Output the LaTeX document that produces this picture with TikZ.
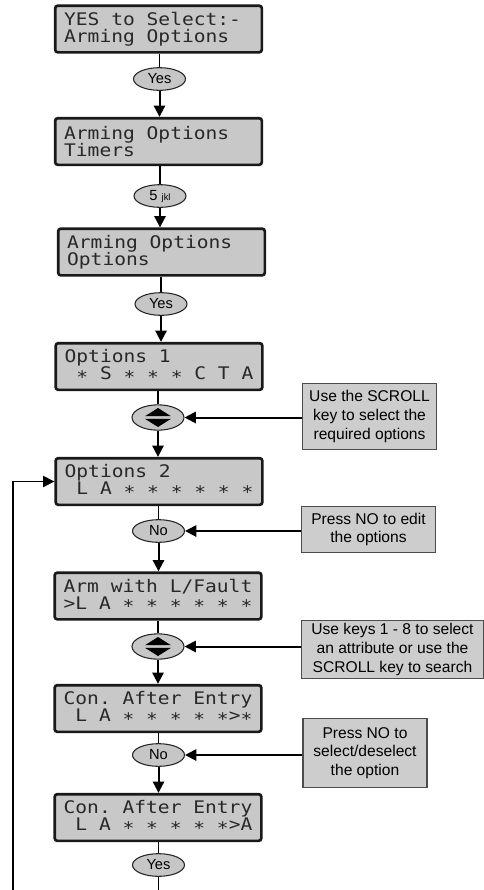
\documentclass[tikz,border=0pt]{standalone}
\usepackage{fontspec}
\setmainfont{Liberation Sans}
\newfontfamily\lcdfont[FakeStretch=1.13]{DejaVu Sans Mono}
\usepackage{xcolor}
\definecolor{lcdgray}{RGB}{200,200,200}
\definecolor{keygray}{RGB}{198,198,198}
\definecolor{notegray}{RGB}{205,205,205}
\definecolor{lcdink}{RGB}{40,40,40}
\usetikzlibrary{arrows.meta,shapes.geometric}
\newcommand\lsp{\phantom{L}}
\newcommand\lcdst{\raisebox{-.35ex}{*}}
\newcommand\scrollmark[1]{\fill[shift={(#1)}] (-13,-1.3) -- (13,-1.3) -- (0,-9.5) -- cycle (-13,1.3) -- (13,1.3) -- (0,9.5) -- cycle;}
\tikzset{
  lcd/.style={draw=black!90,line width=2pt,rounded corners=2pt,fill=lcdgray,text=lcdink,
    minimum width=155pt,minimum height=35pt,inner xsep=6.5pt,text width=141.5pt,align=left,
    font=\lcdfont\fontsize{13}{12.75}\selectfont},
  key/.style={ellipse,draw=black!85,line width=0.8pt,fill=keygray,inner sep=0pt,
    minimum width=39pt,minimum height=17pt,font=\fontsize{11}{13}\selectfont},
  note/.style={draw=black!70,line width=0.8pt,fill=notegray,align=center,inner sep=2pt,
    font=\fontsize{11.7}{14}\selectfont},
  conn/.style={line width=1.5pt,-{Triangle[width=8.5pt,length=8.5pt]}},
  wire/.style={line width=1pt}
}
\begin{document}
\begin{tikzpicture}[x=0.75pt,y=-0.75pt]
  \useasboundingbox (0,0) rectangle (484,890);
  \node[lcd] (lcd1) at (158.5,29) {YES\lsp to\lsp Select:-\\Arming\lsp Options};
  \node[key] (k1) at (159.5,79) {Yes};
  \node[lcd] (lcd2) at (158.5,141.5) {Arming\lsp Options\\Timers};
  \node[key] (k2) at (160,196) {5 {\fontsize{7}{8}\selectfont jkl}};
  \node[lcd] (lcd3) at (161.5,252) {Arming\lsp Options\\Options};
  \node[key] (k3) at (161,304) {Yes};
  \node[lcd] (lcd4) at (159,366.5) {Options\lsp 1\\\lsp\lcdst\lsp S\lsp\lcdst\lsp\lcdst\lsp\lcdst\lsp C\lsp T\lsp A};
  \node[key,minimum height=19pt] (k4) at (158,417.5) {};
  \node[lcd] (lcd5) at (159,481.5) {Options\lsp 2\\\lsp L\lsp A\lsp\lcdst\lsp\lcdst\lsp\lcdst\lsp\lcdst\lsp\lcdst\lsp\lcdst};
  \node[key] (k5) at (158.5,531) {No};
  \node[lcd] (lcd6) at (158,596) {Arm\lsp with\lsp L/Fault\\>L\lsp A\lsp\lcdst\lsp\lcdst\lsp\lcdst\lsp\lcdst\lsp\lcdst\lsp\lcdst};
  \node[key,minimum height=19pt] (k6) at (158,646.5) {};
  \node[lcd] (lcd7) at (158,708.5) {Con.\lsp After\lsp Entry\\\lsp L\lsp A\lsp\lcdst\lsp\lcdst\lsp\lcdst\lsp\lcdst\lsp\lcdst>\lcdst};
  \node[key] (k7) at (158.5,755) {No};
  \node[lcd] (lcd8) at (158,817.5) {Con.\lsp After\lsp Entry\\\lsp L\lsp A\lsp\lcdst\lsp\lcdst\lsp\lcdst\lsp\lcdst\lsp\lcdst>A};
  \node[key] (k8) at (158.5,865) {Yes};
  \scrollmark{k4}
  \scrollmark{k6}
  \foreach \i/\j in {1/2,2/3,3/4,4/5,5/6,6/7,7/8}{
    \draw[wire] (lcd\i.south -| k\i) -- (k\i.north);
    \draw[conn] (k\i.south) -- (k\i.south |- lcd\j.north);
  }
  \coordinate (tailfoot) at (158.5,890);
  \coordinate (loopfoot) at (13,890);
  \draw[wire] (lcd8.south -| k8) -- (k8.north);
  \draw[wire] (k8.south) -- (tailfoot);
  \draw[conn,line width=1pt] (loopfoot) |- (lcd5.west);
  \node[note,minimum width=101pt,minimum height=50pt] (n1) at (369.5,416.5) {Use the SCROLL\\key to select the\\required options};
  \node[note,minimum width=100pt,minimum height=35pt] (n2) at (368.5,529.5) {Press NO to edit\\the options};
  \node[note,minimum width=136pt,minimum height=43pt] (n3) at (392.5,649.5) {Use keys 1 - 8 to select\\an attribute or use the\\SCROLL key to search};
  \node[note,minimum width=93pt,minimum height=52pt] (n4) at (365,753) {Press NO to\\select/deselect\\the option};
  \draw[conn] (n1.west |- k4) -- (k4.east);
  \draw[conn] (n2.west |- k5) -- (k5.east);
  \draw[conn] (n3.west |- k6) -- (k6.east);
  \draw[conn] (n4.west |- k7) -- (k7.east);
\end{tikzpicture}
\end{document}
